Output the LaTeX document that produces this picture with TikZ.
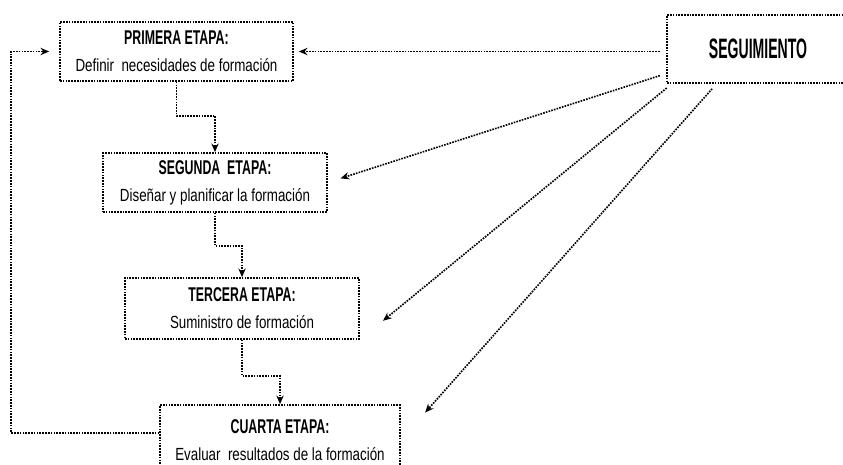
\documentclass[tikz,border=0pt]{standalone}
\usepackage{fontspec}
\setmainfont{Liberation Sans}[FakeStretch=0.76]
\newfontfamily\headfont{Liberation Sans}[FakeStretch=0.62]
\newfontfamily\bigheadfont{Liberation Sans}[FakeStretch=0.5]
\usetikzlibrary{arrows.meta,positioning}

\begin{document}
\begin{tikzpicture}[x=0.3mm,y=-0.3mm,>={Stealth[length=2.6mm,width=2.2mm]}, every node/.style={font=\fontsize{15}{23}\selectfont}]
\tikzstyle{box}=[draw,densely dotted,line width=1.4pt,align=center,minimum height=17.7mm,inner sep=2pt]
\tikzstyle{link}=[->,densely dotted,line width=1.4pt]
\newcommand{\etapa}[1]{{\headfont\bfseries\fontsize{17}{23}\selectfont #1}}
\useasboundingbox (0,0) rectangle (843,465);
\node[box,minimum width=69.9mm] (p1) at (176.5,51.5) {\etapa{PRIMERA ETAPA:}\\Definir~~necesidades de formación};
\node[box,minimum width=67.2mm] (p2) at (215,182.5) {\etapa{SEGUNDA~~ETAPA:}\\Diseñar y planificar la formación};
\node[box,minimum width=70.2mm,minimum height=18.3mm] (p3) at (242,308.5) {\etapa{TERCERA ETAPA:}\\Suministro de formación};
\node[box,minimum width=72mm,minimum height=21mm] (p4) at (280,440) {\etapa{CUARTA ETAPA:}\\Evaluar~~resultados de la formación};
\node[box,minimum width=54.6mm,minimum height=20.4mm,font=\bigheadfont\bfseries\fontsize{24}{28}\selectfont] (seg) at (758,49) {SEGUIMIENTO};
\draw[link] (p1.south) -- ++(0,34) -| (p2.north);
\draw[link] (p2.south) -- ++(0,33) -| (p3.north);
\draw[link] (p3.south) -- ++(0,36) -| (p4.north);
\draw[link,shorten >=3mm] ([yshift=2.1mm]p4.west) -| ([xshift=-14.4mm]p1.west) -- (p1.west);
\draw[link,shorten <=2mm,shorten >=1.5mm] (seg.west |- p1.east) -- (p1.east);
\draw[link,shorten <=2mm,shorten >=4mm] (seg.195) -- (p2.east);
\draw[link,shorten <=2mm,shorten >=9mm] (seg.202) -- (p3.south east);
\draw[link,shorten <=2mm,shorten >=11mm] (seg.220) -- (p4.east);
\end{tikzpicture}
\end{document}
